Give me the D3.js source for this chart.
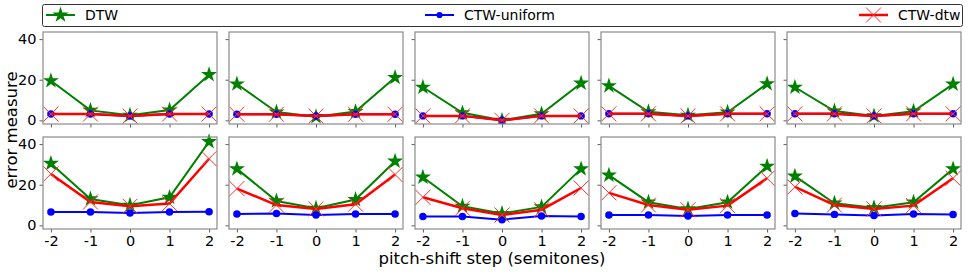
<!DOCTYPE html>
<html>
<head>
<style>
	body { margin: 0; background: #fff; }
	svg { display: block; }
	text { font-family: "DejaVu Sans", sans-serif; fill: #000; }
</style>
<script src="https://d3js.org/d3.v7.min.js"></script>
</head>
<body>
<div id="chart"></div>
<script>
	// pitch-shift steps on the x axis
	const steps = [-2, -1, 0, 1, 2];
	const yTicks = [0, 20, 40];

	// top row, one array of 5 values per panel
	const dtwTop = [
		[19.5, 4.9, 2.5, 5.1, 22.5],
		[17.9, 4.1, 1.8, 4.3, 21.1],
		[16.3, 3.7, 0.0, 3.2, 18.3],
		[17.0, 4.2, 2.5, 4.0, 18.0],
		[16.3, 4.6, 2.2, 4.5, 17.8]
	];
	const uniformTop = [
		[3.1, 3.1, 2.1, 3.1, 3.1],
		[3.0, 3.0, 2.1, 3.0, 3.0],
		[2.2, 2.2, 0.0, 2.2, 2.2],
		[3.2, 3.2, 2.2, 3.2, 3.2],
		[3.2, 3.2, 2.2, 3.2, 3.2]
	];
	const ctwDtwTop = [
		[3.1, 3.1, 2.1, 3.1, 3.1],
		[3.0, 3.0, 2.1, 3.0, 3.0],
		[2.2, 2.2, 0.0, 2.2, 2.2],
		[3.2, 3.2, 2.2, 3.2, 3.2],
		[3.2, 3.2, 2.2, 3.2, 3.2]
	];

	// bottom row
	const dtwBottom = [
		[30.5, 13.0, 9.9, 13.8, 41.2],
		[27.8, 12.0, 8.4, 12.7, 31.6],
		[23.7, 9.4, 5.8, 9.1, 27.8],
		[24.7, 11.4, 8.1, 11.4, 29.1],
		[24.2, 10.9, 8.7, 11.4, 27.8]
	];
	const uniformBottom = [
		[6.6, 6.6, 6.1, 6.6, 6.7],
		[5.6, 5.8, 5.1, 5.6, 5.6],
		[4.3, 4.4, 2.8, 4.6, 4.3],
		[5.1, 5.1, 4.6, 5.1, 5.1],
		[5.8, 5.4, 4.9, 5.6, 5.3]
	];
	const ctwDtwBottom = [
		[25.3, 11.5, 9.4, 10.7, 32.8],
		[18.1, 10.0, 8.1, 10.4, 25.0],
		[13.8, 8.4, 5.1, 7.7, 18.4],
		[16.0, 10.0, 7.7, 9.7, 23.2],
		[18.9, 10.0, 8.1, 9.7, 23.2]
	];

	const seriesNames = ["DTW", "CTW-uniform", "CTW-dtw"];

	const W = 970, H = 273;
	const panelW = 174, panelH = 92, panelStep = 186;
	const left0 = 43;
	const rowTop = [32, 137];

	const svg = d3.select("#chart").append("svg")
		.attr("width", W)
		.attr("height", H);

	const x = d3.scaleLinear().domain([-2.2, 2.2]).range([0, panelW]);
	const y = d3.scaleLinear().domain([-1.8, 43.5]).range([panelH, 0]);

	const line = d3.line()
		.x(function(d, i) { return x(steps[i]); })
		.y(function(d) { return y(d); });

	const star = d3.symbol().type(d3.symbolStar).size(80);
	const dot = d3.symbol().type(d3.symbolCircle).size(44);
	const cross = "M-7.5,-7.5L7.5,7.5M-7.5,7.5L7.5,-7.5";

	// draw one series: line + markers
	function drawSeries(g, vals, kind) {
		if (kind == 0) {
			g.append("path").attr("d", line(vals))
				.attr("fill", "none").attr("stroke", "green").attr("stroke-width", 2);
			g.selectAll(null).data(vals).enter().append("path")
				.attr("d", star)
				.attr("transform", function(d, i) { return "translate(" + x(steps[i]) + "," + y(d) + ")"; })
				.attr("fill", "green");
		} else if (kind == 1) {
			g.append("path").attr("d", line(vals))
				.attr("fill", "none").attr("stroke", "blue").attr("stroke-width", 2);
			g.selectAll(null).data(vals).enter().append("path")
				.attr("d", dot)
				.attr("transform", function(d, i) { return "translate(" + x(steps[i]) + "," + y(d) + ")"; })
				.attr("fill", "blue");
		} else {
			g.append("path").attr("d", line(vals))
				.attr("fill", "none").attr("stroke", "red").attr("stroke-width", 2.5);
			g.selectAll(null).data(vals).enter().append("path")
				.attr("d", cross)
				.attr("transform", function(d, i) { return "translate(" + x(steps[i]) + "," + y(d) + ")"; })
				.attr("fill", "none").attr("stroke", "#ff3030").attr("stroke-width", 1);
		}
	}

	const rows = [
		[dtwTop, uniformTop, ctwDtwTop],
		[dtwBottom, uniformBottom, ctwDtwBottom]
	];
	const noLabel = function() { return ""; };

	rows.forEach(function(rowData, r) {
		for (let p = 0; p < 5; p++) {
			const g = svg.append("g")
				.attr("transform", "translate(" + (left0 + p * panelStep) + "," + rowTop[r] + ")");

			// y axis, labels only on the first column
			const ya = d3.axisLeft(y).tickValues(yTicks).tickSize(3.5).tickPadding(3)
				.tickFormat(p == 0 ? d3.format("d") : noLabel);
			const yg = g.append("g").call(ya);
			// x axis, labels only on the bottom row
			const xa = d3.axisBottom(x).tickValues(steps).tickSize(3.5).tickPadding(3)
				.tickFormat(r == 1 ? function(d) { return d < 0 ? "-" + Math.abs(d) : "" + d; } : noLabel);
			const xg = g.append("g").attr("transform", "translate(0," + panelH + ")").call(xa);

			[yg, xg].forEach(function(a) {
				a.select(".domain").remove();
				a.selectAll(".tick line").attr("stroke", "#333").attr("stroke-width", 0.8);
				a.selectAll(".tick text").attr("font-size", "14.5px")
					.attr("font-family", "DejaVu Sans").attr("fill", "#000");
			});

			const clip = "clip-" + r + "-" + p;
			g.append("clipPath").attr("id", clip).append("rect")
				.attr("x", -10).attr("y", -10).attr("width", panelW + 20).attr("height", panelH + 10);
			const plot = g.append("g").attr("clip-path", "url(#" + clip + ")");
			rowData.forEach(function(series, k) {
				drawSeries(plot, series[p], k);
			});

			// frame
			g.append("rect")
				.attr("x", 0).attr("y", 0).attr("width", panelW).attr("height", panelH)
				.attr("fill", "none").attr("stroke", "#8a8a8a").attr("stroke-width", 1.2);
		}
	});

	// legend
	const lg = svg.append("g");
	lg.append("rect")
		.attr("x", 42.5).attr("y", 4.5).attr("width", 920).attr("height", 22).attr("rx", 2)
		.attr("fill", "#fff").attr("stroke", "#333").attr("stroke-width", 1);
	const legX = [46, 425, 859];
	seriesNames.forEach(function(name, k) {
		const e = lg.append("g").attr("transform", "translate(" + legX[k] + ",15)");
		const col = ["green", "blue", "red"][k];
		e.append("line").attr("x1", 0).attr("x2", 29).attr("y1", 0).attr("y2", 0)
			.attr("stroke", col).attr("stroke-width", k == 2 ? 2.5 : 2);
		if (k == 0) e.append("path").attr("d", star).attr("transform", "translate(14.5,0)").attr("fill", col);
		if (k == 1) e.append("path").attr("d", d3.symbol().type(d3.symbolCircle).size(30)).attr("transform", "translate(14.5,0)").attr("fill", col);
		if (k == 2) e.append("path").attr("d", cross).attr("transform", "translate(14.5,0)").attr("fill", "none").attr("stroke", "#ff3030").attr("stroke-width", 1);
		e.append("text").attr("x", 39).attr("y", 5).attr("font-size", "14px").text(name);
	});

	// axis titles
	svg.append("text")
		.attr("transform", "translate(17,130) rotate(-90)")
		.attr("text-anchor", "middle")
		.attr("font-size", "16.5px")
		.text("error measure");
	svg.append("text")
		.attr("x", 492).attr("y", 264)
		.attr("text-anchor", "middle")
		.attr("font-size", "16.5px")
		.text("pitch-shift step (semitones)");
</script>
</body>
</html>
